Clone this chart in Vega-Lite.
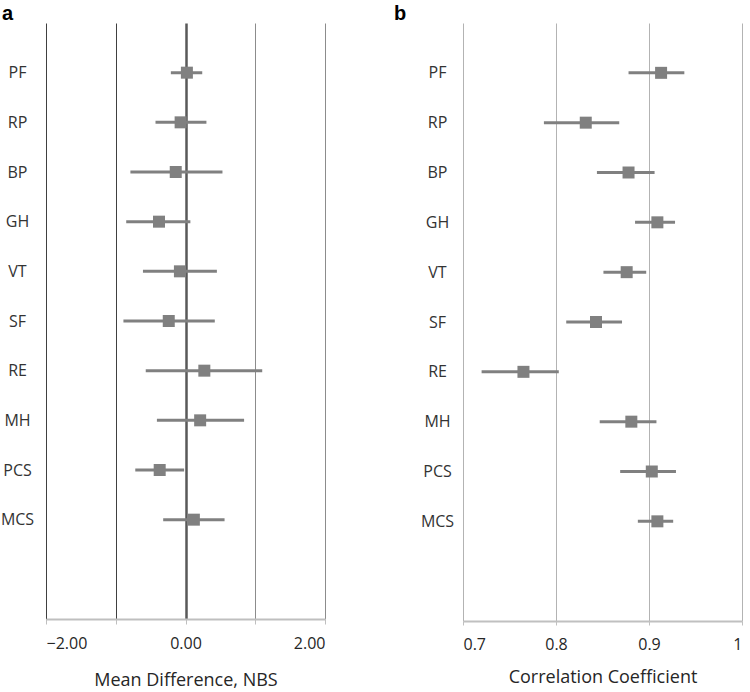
{
  "$schema": "https://vega.github.io/schema/vega-lite/v6.json",
  "padding": {"left": 0, "top": 4, "right": 0, "bottom": 0},
  "background": "white",
  "config": {
    "view": {"stroke": null},
    "font": "Open Sans",
    "axis": {"labelFont": "Open Sans", "titleFont": "Open Sans", "labelColor": "#262626", "titleColor": "#262626", "titleFontWeight": "normal"}
  },
  "datasets": {
    "md": [
      {"scale": "PF", "mean": 0.02, "lo": -0.21, "hi": 0.24},
      {"scale": "RP", "mean": -0.07, "lo": -0.43, "hi": 0.30},
      {"scale": "BP", "mean": -0.14, "lo": -0.79, "hi": 0.53},
      {"scale": "GH", "mean": -0.38, "lo": -0.85, "hi": 0.07},
      {"scale": "VT", "mean": -0.08, "lo": -0.61, "hi": 0.45},
      {"scale": "SF", "mean": -0.24, "lo": -0.89, "hi": 0.42},
      {"scale": "RE", "mean": 0.27, "lo": -0.57, "hi": 1.10},
      {"scale": "MH", "mean": 0.21, "lo": -0.41, "hi": 0.84},
      {"scale": "PCS", "mean": -0.37, "lo": -0.72, "hi": -0.02},
      {"scale": "MCS", "mean": 0.12, "lo": -0.32, "hi": 0.56}
    ],
    "cc": [
      {"scale": "PF", "r": 0.913, "lo": 0.878, "hi": 0.938},
      {"scale": "RP", "r": 0.832, "lo": 0.787, "hi": 0.868},
      {"scale": "BP", "r": 0.878, "lo": 0.844, "hi": 0.906},
      {"scale": "GH", "r": 0.909, "lo": 0.885, "hi": 0.928},
      {"scale": "VT", "r": 0.876, "lo": 0.851, "hi": 0.897},
      {"scale": "SF", "r": 0.843, "lo": 0.811, "hi": 0.871},
      {"scale": "RE", "r": 0.765, "lo": 0.720, "hi": 0.803},
      {"scale": "MH", "r": 0.881, "lo": 0.847, "hi": 0.908},
      {"scale": "PCS", "r": 0.903, "lo": 0.869, "hi": 0.929},
      {"scale": "MCS", "r": 0.909, "lo": 0.888, "hi": 0.926}
    ]
  },
  "spacing": 68,
  "hconcat": [
    {
      "width": 279,
      "height": 596,
      "title": {"text": "a", "anchor": "start", "frame": "group", "dx": -44, "font": "Liberation Sans", "fontSize": 20, "fontWeight": "bold", "color": "#000000", "offset": -9},
      "data": {"name": "md"},
      "encoding": {
        "y": {
          "field": "scale", "type": "nominal",
          "scale": {"type": "point", "padding": 0, "domain": ["_0", "PF", "RP", "BP", "GH", "VT", "SF", "RE", "MH", "PCS", "MCS", "_11", "_12"]},
          "axis": {"title": null, "domain": false, "ticks": false, "tickSize": 0, "grid": false, "labelAlign": "center", "labelPadding": 29, "labelFontSize": 16, "labelColor": "#333333", "labelExpr": "indexof(datum.label, '_') == 0 ? '' : datum.label"}
        }
      },
      "layer": [
        {
          "mark": {"type": "rule", "color": "#808080", "strokeWidth": 3},
          "encoding": {
            "x": {
              "field": "lo", "type": "quantitative",
              "scale": {"domain": [-2, 2], "nice": false, "zero": false},
              "axis": {
                "title": "Mean Difference, NBS", "titleFontSize": 18, "titlePadding": 20,
                "values": [-2, -1, 0, 1, 2],
                "labelExpr": "datum.value % 2 == 0 ? format(datum.value, '.2f') : ''",
                "labelFontSize": 16, "labelPadding": 11,
                "domainColor": "#bfbfbf", "domainWidth": 2,
                "tickColor": "#bfbfbf", "tickSize": 5, "tickWidth": 1,
                "grid": true,
                "gridColor": {"condition": [{"test": "datum.value == 0", "value": "#595959"}, {"test": "datum.value < 0", "value": "#404040"}], "value": "#8c8c8c"},
                "gridWidth": {"condition": {"test": "datum.value == 0", "value": 2.5}, "value": 1}
              }
            },
            "x2": {"field": "hi"}
          }
        },
        {
          "mark": {"type": "square", "size": 144, "filled": true, "color": "#808080", "opacity": 1},
          "encoding": {"x": {"field": "mean", "type": "quantitative"}}
        }
      ]
    },
    {
      "width": 279,
      "height": 598,
      "title": {"text": "b", "anchor": "start", "frame": "group", "dx": -69, "font": "Liberation Sans", "fontSize": 20, "fontWeight": "bold", "color": "#000000", "offset": -9},
      "data": {"name": "cc"},
      "encoding": {
        "y": {
          "field": "scale", "type": "nominal",
          "scale": {"type": "point", "padding": 0, "domain": ["_0", "PF", "RP", "BP", "GH", "VT", "SF", "RE", "MH", "PCS", "MCS", "_11", "_12"]},
          "axis": {"title": null, "domain": false, "ticks": false, "tickSize": 0, "grid": false, "labelAlign": "center", "labelPadding": 26, "labelFontSize": 16, "labelColor": "#333333", "labelExpr": "indexof(datum.label, '_') == 0 ? '' : datum.label"}
        }
      },
      "layer": [
        {
          "mark": {"type": "rule", "color": "#808080", "strokeWidth": 3},
          "encoding": {
            "x": {
              "field": "lo", "type": "quantitative",
              "scale": {"domain": [0.7, 1], "nice": false, "zero": false},
              "axis": {
                "title": "Correlation Coefficient", "titleFontSize": 18, "titlePadding": 16,
                "values": [0.7, 0.8, 0.9, 1],
                "format": "~g",
                "labelFontSize": 16, "labelPadding": 11,
                "domainColor": "#c0c0c0", "domainWidth": 2,
                "tickColor": "#c0c0c0", "tickSize": 4, "tickWidth": 1,
                "grid": true, "gridColor": "#b3b3b3", "gridWidth": 1
              }
            },
            "x2": {"field": "hi"}
          }
        },
        {
          "mark": {"type": "square", "size": 144, "filled": true, "color": "#808080", "opacity": 1},
          "encoding": {"x": {"field": "r", "type": "quantitative"}}
        }
      ]
    }
  ]
}
